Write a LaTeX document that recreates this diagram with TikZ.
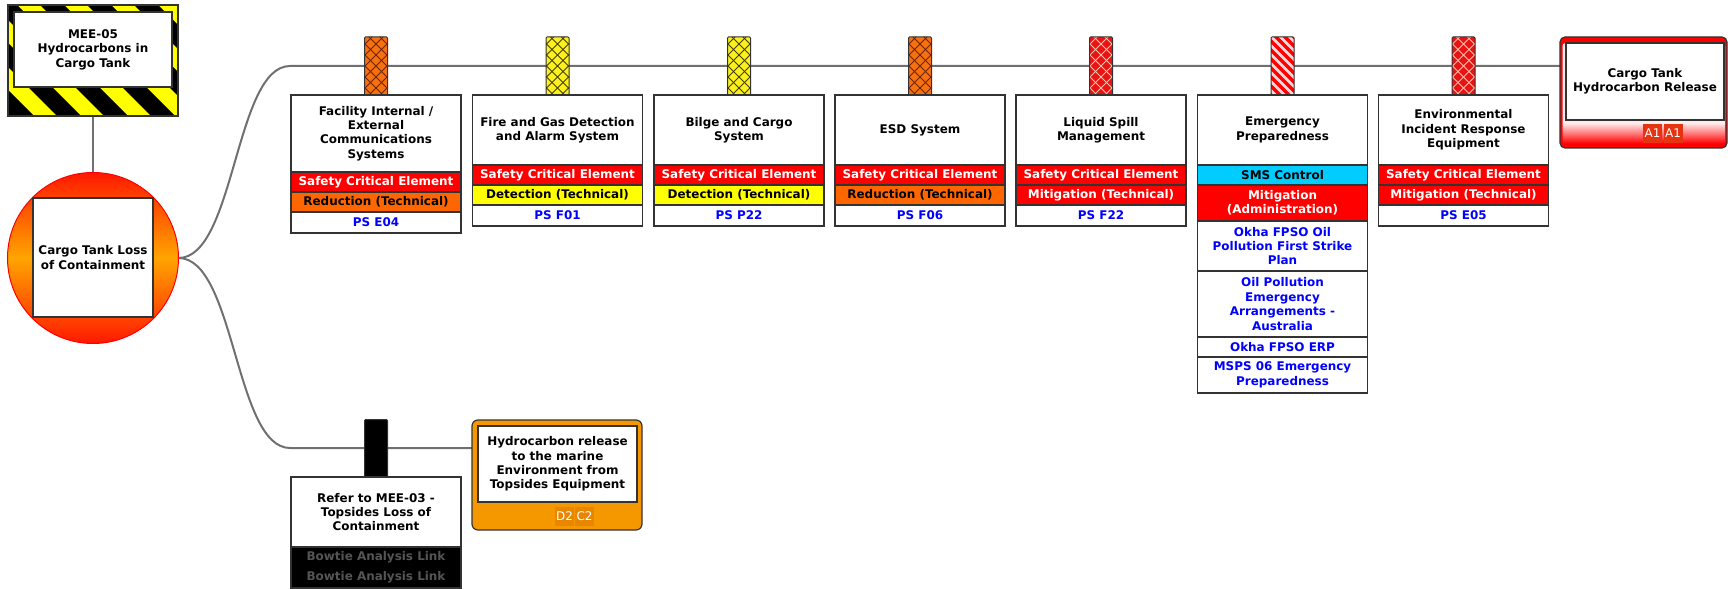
\documentclass[tikz,border=0pt]{standalone}
\usepackage{fontspec}
\setmainfont{DejaVu Sans}
\usetikzlibrary{backgrounds}

\definecolor{linegray}{RGB}{112,112,112}
\definecolor{edge}{RGB}{51,51,51}
\definecolor{sce}{RGB}{255,0,0}
\definecolor{reduc}{RGB}{255,102,0}
\definecolor{detect}{RGB}{255,255,0}
\definecolor{sms}{RGB}{0,204,255}
\definecolor{psblue}{RGB}{0,0,255}
\definecolor{hazyellow}{RGB}{255,255,0}
\definecolor{consorange}{RGB}{245,152,0}
\definecolor{badgeorange}{RGB}{232,134,0}
\definecolor{badgered}{RGB}{228,52,18}
\definecolor{topred}{RGB}{255,25,0}
\definecolor{toporange}{RGB}{255,165,0}
\definecolor{glowpink}{RGB}{255,236,236}
\definecolor{glowmid}{RGB}{255,120,120}
\definecolor{netorange}{RGB}{245,112,16}
\definecolor{netorangeline}{RGB}{110,36,0}
\definecolor{netyellow}{RGB}{250,240,30}
\definecolor{netyellowline}{RGB}{70,60,0}
\definecolor{netred}{RGB}{232,20,20}
\definecolor{netredline}{RGB}{255,190,170}
\definecolor{linkgray}{RGB}{85,85,85}

% glow inside the top consequence frame: red at the foot, pale above
\pgfdeclareverticalshading{consglow}{100bp}{color(0bp)=(red); color(26bp)=(red); color(31bp)=(glowmid); color(36bp)=(glowpink); color(100bp)=(glowpink)}

\tikzset{
  every node/.style={inner sep=0pt, outer sep=0pt},
  txt/.style={align=center, font=\bfseries\fontsize{12}{14.5}\selectfont},
  boxline/.style={draw=edge, line width=1.2bp},
  conn/.style={draw=linegray, line width=2bp},
  badge/.style={font=\fontsize{12}{14}\selectfont, text=white, minimum width=19bp, minimum height=19bp},
  tabbase/.style={draw=edge, line width=1bp, minimum width=23bp, minimum height=58bp, rounded corners=1bp},
  nettab/.style 2 args={tabbase, fill=#1, path picture={
    \foreach \k in {-7,...,7}{
      \draw[#2, line width=0.8bp] (path picture bounding box.center) ++(-15bp,{\k*11bp-15bp}) -- ++(30bp,30bp);
      \draw[#2, line width=0.8bp] (path picture bounding box.center) ++(-15bp,{\k*11bp+15bp}) -- ++(30bp,-30bp);
    }}},
  stripetab/.style={tabbase, fill=sce, path picture={
    \foreach \k in {-9,...,9}{
      \draw[white, opacity=0.85, line width=2.6bp] (path picture bounding box.center) ++(-15bp,{\k*9bp+15bp}) -- ++(30bp,-30bp);
    }}},
}

% one band of a barrier card: name, left x, top y, height, fill, text colour, text
\newcommand\bandrow[7]{%
  \draw[boxline, fill=#5] (#2,#3) rectangle ++(170,#4);
  \node[txt, text=#6] (#1) at ({#2+85},{#3+#4/2}) {#7};}

\begin{document}
\begin{tikzpicture}[x=1bp, y=-1bp]
\useasboundingbox (0,0) rectangle (1728,589);

% hazard with black and yellow warning stripes
\begin{scope}
  \clip (8,5) rectangle (178,116);
  \fill[hazyellow] (8,5) rectangle (178,116);
  \foreach \k in {-3,...,4}
    \fill[black] ({47*\k-7},5) -- ({47*\k+17},5) -- ({47*\k+128},116) -- ({47*\k+104},116) -- cycle;
\end{scope}
\node[boxline, minimum width=170bp, minimum height=111bp] (hz) at (93,60.5) {};
\node[boxline, fill=white, minimum width=158bp, minimum height=75bp, txt] (hzt) at (93,49.5) {MEE-05\\Hydrocarbons in\\Cargo Tank};

% top event
\node[circle, minimum size=171bp, draw=red, line width=1bp, top color=topred, bottom color=topred, middle color=toporange] (ce) at (93,258) {};
\node[boxline, fill=white, minimum width=120bp, minimum height=119bp, txt] (te) at (93,257.5) {Cargo Tank Loss\\of Containment};

% consequence: cargo tank release
\node[boxline, fill=red, rounded corners=5bp, minimum width=167bp, minimum height=111bp] (c1) at (1643.5,92.5) {};
\shade[shading=consglow, rounded corners=3bp] (1562.5,43) rectangle (1725,145.5);
\node[boxline, fill=white, minimum width=158bp, minimum height=77bp, txt] (c1t) at (1645,81.5) {Cargo Tank\\Hydrocarbon Release};
\node[badge, fill=badgered] (c1a) at (1652.5,133.5) {A1};
\node[badge, fill=badgered] (c1b) at (1673,133.5) {A1};

% consequence: release to the marine environment
\node[boxline, fill=consorange, rounded corners=6bp, minimum width=170bp, minimum height=110bp] (c2) at (557,475) {};
\node[boxline, fill=white, minimum width=159bp, minimum height=76bp, txt] (c2t) at (557.5,464) {Hydrocarbon release\\to the marine\\Environment from\\Topsides Equipment};
\node[badge, fill=badgeorange] (c2a) at (564.5,516) {D2};
\node[badge, fill=badgeorange] (c2b) at (584.5,516) {C2};

% barrier tabs on the upper pathway
\node[nettab={netorange}{netorangeline}] (t1) at (376,66) {};
\node[nettab={netyellow}{netyellowline}] (t2) at (557.5,66) {};
\node[nettab={netyellow}{netyellowline}] (t3) at (739,66) {};
\node[nettab={netorange}{netorangeline}] (t4) at (920,66) {};
\node[nettab={netred}{netredline}] (t5) at (1101,66) {};
\node[stripetab] (t6) at (1282.5,66) {};
\node[nettab={netred}{netredline}] (t7) at (1463.5,66) {};
\node[tabbase, fill=black] (t8) at (376,448.5) {};

% barrier cards
\bandrow{b1h}{291}{95}{77}{white}{black}{Facility Internal /\\External\\Communications\\Systems}
\bandrow{b1s}{291}{172}{20}{sce}{white}{Safety Critical Element}
\bandrow{b1r}{291}{192}{20}{reduc}{black}{Reduction (Technical)}
\bandrow{b1p}{291}{212}{21}{white}{psblue}{PS E04}

\bandrow{b2h}{472.5}{95}{70}{white}{black}{Fire and Gas Detection\\and Alarm System}
\bandrow{b2s}{472.5}{165}{20}{sce}{white}{Safety Critical Element}
\bandrow{b2r}{472.5}{185}{20}{detect}{black}{Detection (Technical)}
\bandrow{b2p}{472.5}{205}{21}{white}{psblue}{PS F01}

\bandrow{b3h}{654}{95}{70}{white}{black}{Bilge and Cargo\\System}
\bandrow{b3s}{654}{165}{20}{sce}{white}{Safety Critical Element}
\bandrow{b3r}{654}{185}{20}{detect}{black}{Detection (Technical)}
\bandrow{b3p}{654}{205}{21}{white}{psblue}{PS P22}

\bandrow{b4h}{835}{95}{70}{white}{black}{ESD System}
\bandrow{b4s}{835}{165}{20}{sce}{white}{Safety Critical Element}
\bandrow{b4r}{835}{185}{20}{reduc}{black}{Reduction (Technical)}
\bandrow{b4p}{835}{205}{21}{white}{psblue}{PS F06}

\bandrow{b5h}{1016}{95}{70}{white}{black}{Liquid Spill\\Management}
\bandrow{b5s}{1016}{165}{20}{sce}{white}{Safety Critical Element}
\bandrow{b5r}{1016}{185}{20}{sce}{white}{Mitigation (Technical)}
\bandrow{b5p}{1016}{205}{21}{white}{psblue}{PS F22}

\bandrow{b6h}{1197.5}{95}{70}{white}{black}{Emergency\\Preparedness}
\bandrow{b6s}{1197.5}{165}{20}{sms}{black}{SMS Control}
\bandrow{b6r}{1197.5}{185}{36}{sce}{white}{Mitigation\\(Administration)}
\bandrow{b6p}{1197.5}{221}{50}{white}{psblue}{Okha FPSO Oil\\Pollution First Strike\\Plan}
\bandrow{b6q}{1197.5}{271}{66}{white}{psblue}{Oil Pollution\\Emergency\\Arrangements -\\Australia}
\bandrow{b6e}{1197.5}{337}{20}{white}{psblue}{Okha FPSO ERP}
\bandrow{b6m}{1197.5}{357}{36}{white}{psblue}{MSPS 06 Emergency\\Preparedness}

\bandrow{b7h}{1378.5}{95}{70}{white}{black}{Environmental\\Incident Response\\Equipment}
\bandrow{b7s}{1378.5}{165}{20}{sce}{white}{Safety Critical Element}
\bandrow{b7r}{1378.5}{185}{20}{sce}{white}{Mitigation (Technical)}
\bandrow{b7p}{1378.5}{205}{21}{white}{psblue}{PS E05}

% linked barrier on the lower pathway
\bandrow{b8h}{291}{477}{70}{white}{black}{Refer to MEE-03 -\\Topsides Loss of\\Containment}
\draw[boxline, fill=black] (291,547) rectangle ++(170,41);
\node[txt, text=linkgray] (b8a) at (376,557) {Bowtie Analysis Link};
\node[txt, text=linkgray] (b8b) at (376,577) {Bowtie Analysis Link};

% pathways
\coordinate (j1) at (290,66);
\coordinate (j2) at (290,448);
\begin{scope}[on background layer]
  \draw[conn] (hz.south) -- (ce.north);
  \draw[conn] (ce.east) .. controls (235,258) and (235,66) .. (j1) -- (j1 -| c1.west);
  \draw[conn] (ce.east) .. controls (235,258) and (235,448) .. (j2) -- (j2 -| c2.west);
\end{scope}
\end{tikzpicture}
\end{document}
